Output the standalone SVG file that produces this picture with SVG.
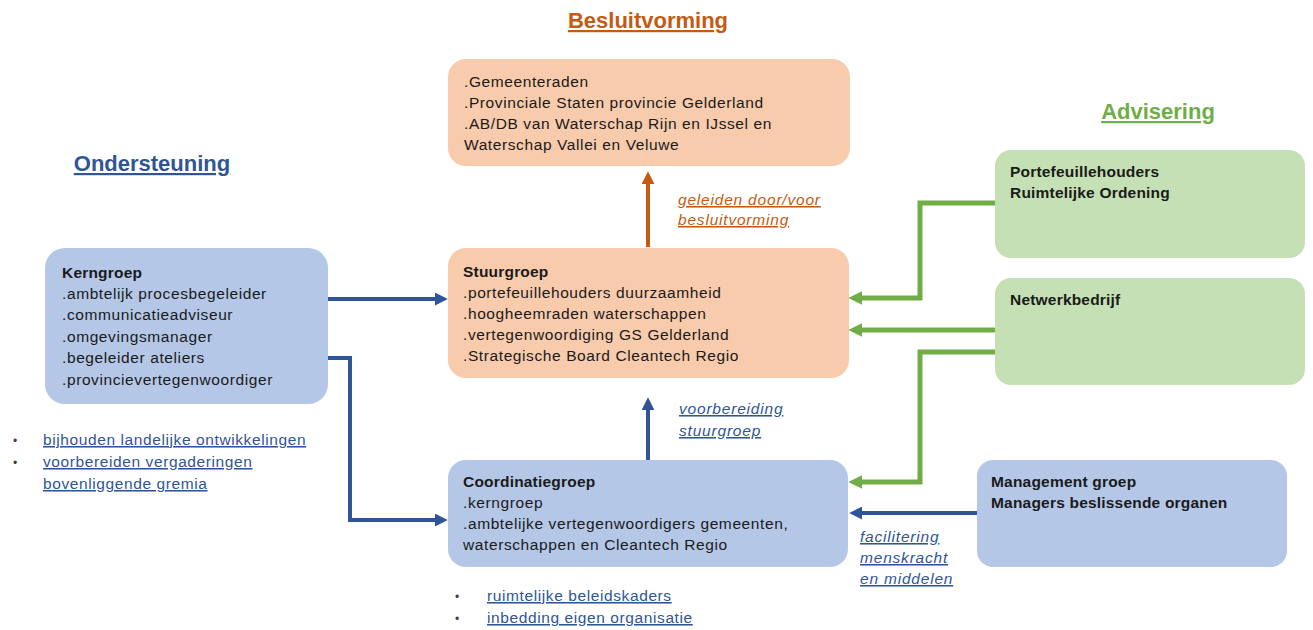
<svg xmlns="http://www.w3.org/2000/svg" width="1313" height="630" viewBox="0 0 1313 630">
<style>
text{font-family:"Liberation Sans",Arial,sans-serif;font-size:15.5px;letter-spacing:0.6px;fill:#1a1a1a}
.b{font-weight:bold;letter-spacing:0.2px}
.title{font-size:22px;font-weight:bold;letter-spacing:0;text-decoration:underline}
.lbl{font-style:italic;letter-spacing:0.8px;text-decoration:underline}
.bul{text-decoration:underline;fill:#2f5597}
.dot{fill:#404040;font-size:12px}
.orangebox{fill:#f8cbad}
.bluebox{fill:#b4c7e7}
.greenbox{fill:#c5e0b4}
.cb{fill:none;stroke:#2f5597;stroke-width:4}
.cg{fill:none;stroke:#70ad47;stroke-width:5}
.co{fill:none;stroke:#c55a11;stroke-width:4}
</style>
<defs>
<marker id="ab" markerUnits="userSpaceOnUse" viewBox="0 0 12 12" markerWidth="13" markerHeight="13" refX="2" refY="6" orient="auto"><path d="M0,0 L12,6 L0,12 z" fill="#2f5597"/></marker>
<marker id="ag" markerUnits="userSpaceOnUse" viewBox="0 0 12 12" markerWidth="14" markerHeight="14" refX="2" refY="6" orient="auto"><path d="M0,0 L12,6 L0,12 z" fill="#70ad47"/></marker>
<marker id="ao" markerUnits="userSpaceOnUse" viewBox="0 0 12 12" markerWidth="13" markerHeight="13" refX="2" refY="6" orient="auto"><path d="M0,0 L12,6 L0,12 z" fill="#c55a11"/></marker>
</defs>
<rect width="1313" height="630" fill="#ffffff"/>

<text class="title" x="648" y="28" text-anchor="middle" style="fill:#c55a11">Besluitvorming</text>
<text class="title" x="152" y="171" text-anchor="middle" style="fill:#2f5597">Ondersteuning</text>
<text class="title" x="1158" y="119" text-anchor="middle" style="fill:#70ad47">Advisering</text>

<g id="connectors">
<path class="co" d="M648,247 V182" marker-end="url(#ao)"/>
<path class="cb" d="M648,460 V408" marker-end="url(#ab)"/>
<path class="cb" d="M328,299 H437" marker-end="url(#ab)"/>
<path class="cb" d="M328,358 H350 V520 H437" marker-end="url(#ab)"/>
<path class="cg" d="M995,203 H920 V298 H860" marker-end="url(#ag)"/>
<path class="cg" d="M995,330 H860" marker-end="url(#ag)"/>
<path class="cg" d="M995,352 H920 V482 H860" marker-end="url(#ag)"/>
<path class="cb" d="M977,513 H860" marker-end="url(#ab)"/>
<text class="lbl" x="678" y="205" style="fill:#c55a11">geleiden door/voor</text>
<text class="lbl" x="678" y="225" style="fill:#c55a11">besluitvorming</text>
<text class="lbl" x="679" y="414" style="fill:#2f5597">voorbereiding</text>
<text class="lbl" x="679" y="436" style="fill:#2f5597">stuurgroep</text>
<text class="lbl" x="860" y="542" style="fill:#2f5597">facilitering</text>
<text class="lbl" x="860" y="563" style="fill:#2f5597">menskracht</text>
<text class="lbl" x="860" y="584" style="fill:#2f5597">en middelen</text>
</g>

<g id="besluitvorming">
<rect class="orangebox" x="448" y="59" width="402" height="107" rx="18"/>
<text x="464" y="87">.Gemeenteraden</text>
<text x="464" y="108">.Provinciale Staten provincie Gelderland</text>
<text x="464" y="129">.AB/DB van Waterschap Rijn en IJssel en</text>
<text x="464" y="150">Waterschap Vallei en Veluwe</text>
</g>

<g id="stuurgroep">
<rect class="orangebox" x="448" y="248" width="401" height="130" rx="18"/>
<text class="b" x="463" y="277">Stuurgroep</text>
<text x="463" y="298">.portefeuillehouders  duurzaamheid</text>
<text x="463" y="319">.hoogheemraden waterschappen</text>
<text x="463" y="340">.vertegenwoordiging GS Gelderland</text>
<text x="463" y="361">.Strategische Board Cleantech Regio</text>
</g>

<g id="coordinatiegroep">
<rect class="bluebox" x="448" y="460" width="400" height="107" rx="18"/>
<text class="b" x="463" y="487">Coordinatiegroep</text>
<text x="463" y="508">.kerngroep</text>
<text x="463" y="529">.ambtelijke vertegenwoordigers gemeenten,</text>
<text x="463" y="550">waterschappen en Cleantech Regio</text>
<text class="dot" x="455" y="601">•</text>
<text class="bul" x="487" y="601">ruimtelijke beleidskaders</text>
<text class="dot" x="455" y="623">•</text>
<text class="bul" x="487" y="623">inbedding eigen organisatie</text>
</g>

<g id="kerngroep">
<rect class="bluebox" x="45" y="248" width="283" height="156" rx="20"/>
<text class="b" x="62" y="278">Kerngroep</text>
<text x="62" y="299">.ambtelijk procesbegeleider</text>
<text x="62" y="320">.communicatieadviseur</text>
<text x="62" y="342">.omgevingsmanager</text>
<text x="62" y="363">.begeleider ateliers</text>
<text x="62" y="385">.provincievertegenwoordiger</text>
<text class="dot" x="13" y="445">•</text>
<text class="bul" x="43" y="445">bijhouden landelijke ontwikkelingen</text>
<text class="dot" x="13" y="467">•</text>
<text class="bul" x="43" y="467">voorbereiden vergaderingen</text>
<text class="bul" x="43" y="489">bovenliggende gremia</text>
</g>

<g id="portefeuillehouders">
<rect class="greenbox" x="995" y="150" width="310" height="108" rx="16"/>
<text class="b" x="1010" y="177">Portefeuillehouders</text>
<text class="b" x="1010" y="198">Ruimtelijke Ordening</text>
</g>

<g id="netwerkbedrijf">
<rect class="greenbox" x="995" y="278" width="310" height="107" rx="16"/>
<text class="b" x="1010" y="305">Netwerkbedrijf</text>
</g>

<g id="managementgroep">
<rect class="bluebox" x="977" y="460" width="310" height="107" rx="16"/>
<text class="b" x="991" y="487">Management groep</text>
<text class="b" x="991" y="508">Managers beslissende organen</text>
</g>
</svg>
